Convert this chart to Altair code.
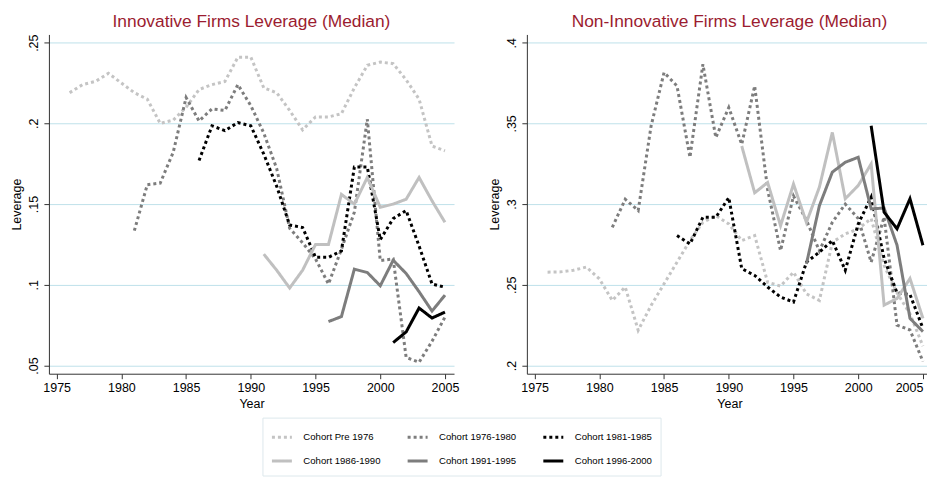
import altair as alt
import pandas as pd

cohorts = ["Cohort Pre 1976", "Cohort 1976-1980", "Cohort 1981-1985",
           "Cohort 1986-1990", "Cohort 1991-1995", "Cohort 1996-2000"]
start_years = [1976, 1981, 1986, 1991, 1996, 2001]

# Innovative firms (left panel)
inn_pre1976 = [.219, .224, .226, .231, .225, .219, .215, .200, .202, .210,
               .221, .224, .226, .241, .241, .222, .219, .208, .196, .204,
               .204, .206, .222, .236, .238, .237, .227, .215, .186, .183]
inn_7680 = [.1335, .162, .163, .182, .216, .2015, .209, .208, .224, .211,
            .194, .172, .135, .126, .116, .1005, .122, .145, .2026, .115,
            .116, .055, .052, .065, .080]
inn_8185 = [.177, .1985, .1955, .2005, .1985, .181, .161, .137, .1355, .117,
            .117, .121, .173, .173, .128, .141, .146, .124, .1005, .0985]
inn_8690 = [.119, .109, .098, .109, .125, .125, .156, .150, .1665, .148,
            .150, .153, .1665, .152, .1387]
inn_9195 = [.0772, .0803, .1097, .1076, .0994, .1152, .107, .0957, .0837, .0936]
inn_9600 = [.0642, .0708, .0856, .0794, .0831]

# Non-innovative firms (right panel)
non_pre1976 = [.2578, .258, .259, .261, .2537, .2403, .2486, .2218, .2372, .2506,
               .264, .2774, .2887, .2928, .2877, .2774, .2805, .2516, .2492, .2578,
               .2444, .2403, .2763, .2815, .2846, .291, .262, .245, .232, .212]
non_7680 = [.2856, .303, .296, .3485, .3815, .3732, .329, .3866, .3412, .3598,
            .337, .3732, .309, .2712, .305, .290, .271, .2887, .300, .291,
            .264, .292, .225, .222, .2025]
non_8185 = [.2805, .2753, .2918, .2918, .304, .260, .2558, .2486, .2424, .2393,
            .264, .2702, .2774, .259, .2877, .3043, .2663, .245, .244, .223]
non_8690 = [.336, .307, .3134, .2866, .3124, .2886, .3105, .3444, .3033, .3115,
            .3249, .2374, .2415, .2539, .2292]
non_9195 = [.263, .299, .3198, .3259, .329, .2971, .2975, .2745, .2292, .221]
non_9600 = [.3485, .295, .2847, .3033, .2745]

inn_series = [inn_pre1976, inn_7680, inn_8185, inn_8690, inn_9195, inn_9600]
non_series = [non_pre1976, non_7680, non_8185, non_8690, non_9195, non_9600]

x_ticks = [1975, 1980, 1985, 1990, 1995, 2000, 2005]
inn_ticks = [0.05, 0.1, 0.15, 0.2, 0.25]
non_ticks = [0.2, 0.25, 0.3, 0.35, 0.4]


def frame(series):
    rows = []
    for name, start, vals in zip(cohorts, start_years, series):
        for i, v in enumerate(vals):
            rows.append({"cohort": name, "year": start + i, "value": v})
    return pd.DataFrame(rows)


colors = ["#c4c4c4", "#7d7d7d", "#000000", "#c0c0c0", "#7d7d7d", "#000000"]
dashes = [[3, 3], [3, 3], [3, 3], [1, 0], [1, 0], [1, 0]]

FONT = "Liberation Sans"
W, H = 406, 340

legend = alt.Legend(
    title=None, orient="none", legendX=214, legendY=384, columns=3,
    direction="horizontal",
    symbolType="stroke", symbolSize=400, symbolStrokeWidth=3,
    labelFontSize=9.6, labelFont=FONT, labelColor="#000000", labelOffset=10,
    columnPadding=20, rowPadding=6, padding=8,
    strokeColor="#dde8ec", fillColor="#ffffff",
)


def panel(df, title, ticks, domain, last_right=False):
    xaxis = dict(values=x_ticks, format="d", grid=False, tickSize=5,
                 labelPadding=2.5, titlePadding=4, minExtent=0)
    if last_right:
        xaxis["labelAlign"] = alt.condition("datum.value == 2005",
                                            alt.value("right"), alt.value("center"))
    return alt.Chart(df, title=alt.Title(
        title, fontSize=17.4, font=FONT, color="#9b1c30", fontWeight="normal",
        anchor="middle", offset=4)).mark_line(strokeWidth=3, strokeCap="butt").encode(
        x=alt.X("year:Q", title="Year",
                scale=alt.Scale(domain=[1974.4, 2005.7], nice=False, zero=False),
                axis=alt.Axis(**xaxis)),
        y=alt.Y("value:Q", title="Leverage",
                scale=alt.Scale(domain=domain, nice=False, zero=False),
                axis=alt.Axis(values=ticks, labelAngle=270, tickSize=5,
                              labelPadding=3, titlePadding=4, minExtent=0,
                              labelExpr="replace(format(datum.value, '.2~f'), '0.', '.')")),
        color=alt.Color("cohort:N", scale=alt.Scale(domain=cohorts, range=colors),
                        legend=legend),
        strokeDash=alt.StrokeDash("cohort:N", scale=alt.Scale(domain=cohorts, range=dashes),
                                  legend=legend),
        detail="cohort:N",
    ).properties(width=W, height=H)


left = panel(frame(inn_series), "Innovative Firms Leverage (Median)", inn_ticks, [0.0449, 0.2551])
right = panel(frame(non_series), "Non-Innovative Firms Leverage (Median)", non_ticks,
              [0.1949, 0.4051], last_right=True)

chart = alt.hconcat(left, right, spacing=30).properties(
    padding={"left": 3, "top": 4, "right": -5, "bottom": 0},
    background="white",
).configure_view(stroke=None).configure_axis(
    labelFont=FONT, titleFont=FONT, labelFontSize=12.5, titleFontSize=12.5,
    labelColor="#000000", titleColor="#000000", titleFontWeight="normal",
    domainColor="#333333", tickColor="#333333", domainWidth=1, tickWidth=1,
    gridColor="#bfe1ea", gridWidth=1, gridOpacity=1,
)

chart.save("out.html", embed_options={"renderer": "svg", "actions": False})
